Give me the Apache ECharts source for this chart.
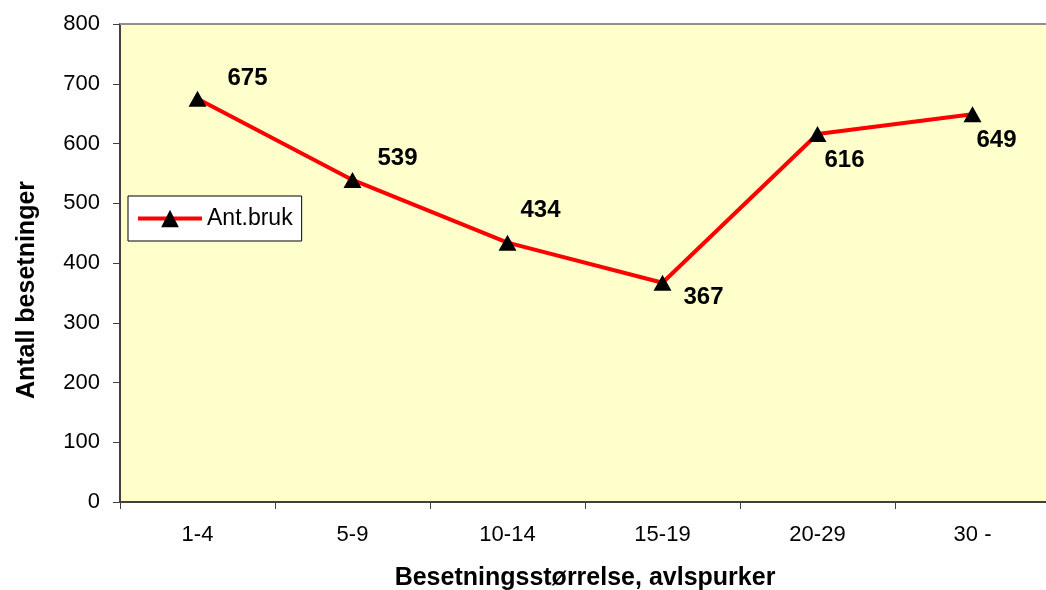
<!DOCTYPE html>
<html><head><meta charset="utf-8">
<script src="https://cdn.jsdelivr.net/npm/echarts@6/dist/echarts.min.js"></script>
<style>html,body{margin:0;padding:0;background:#fff}#c{width:1046px;height:590px}</style>
</head><body><div id="c"></div>
<script>
const categories = ['1-4','5-9','10-14','15-19','20-29','30 -'];
const values = [675, 539, 434, 367, 616, 649];
const yTicks = [0,100,200,300,400,500,600,700,800];
const labelOffsets = [[50,-20],[45,-22],[33,-32],[41,15],[27,26],[24,26]];

const chart = echarts.init(document.getElementById('c'), null, {renderer:'canvas'});
const font = 'Liberation Sans, Arial, sans-serif';
chart.setOption({
  animation:false,
  backgroundColor:'#fff',
  grid:{left:120, top:24, width:930, bottom:88, show:true, backgroundColor:'#ffffcc', borderWidth:0,
        containLabel:false, outerBoundsMode:'none'},
  legend:{
    left:128, top:196, orient:'vertical', backgroundColor:'#fff', borderColor:'#000', borderWidth:1,
    padding:[11,9,11,8], itemWidth:64, itemHeight:22, itemGap:0,
    lineStyle:{width:4},
    textStyle:{fontFamily:font, fontSize:23, color:'#000'},
    data:['Ant.bruk']
  },
  xAxis:{
    type:'category', data:categories, boundaryGap:true,
    name:'Besetningsstørrelse, avlspurker', nameLocation:'middle', nameGap:64,
    nameTextStyle:{fontFamily:font, fontSize:25, fontWeight:'bold', color:'#000'},
    axisLine:{lineStyle:{color:'#404040', width:2}},
    axisTick:{show:true, length:7, alignWithLabel:false, lineStyle:{color:'#404040', width:1}},
    axisLabel:{fontFamily:font, fontSize:22, color:'#000', margin:22}
  },
  yAxis:{
    type:'value', min:0, max:800, interval:100,
    name:'Antall besetninger', nameLocation:'middle', nameGap:80, nameRotate:90,
    nameTextStyle:{fontFamily:font, fontSize:25, fontWeight:'bold', color:'#000', padding:[0,54,0,0]},
    axisLine:{show:true, lineStyle:{color:'#404040', width:2}},
    axisTick:{show:true, length:7, lineStyle:{color:'#404040', width:1}},
    splitLine:{show:false},
    axisLabel:{fontFamily:font, fontSize:22, color:'#000', margin:20,
      formatter:v=> yTicks.includes(v)? String(v):''}
  },
  graphic:[{type:'line', shape:{x1:120,y1:24,x2:1046,y2:24}, style:{stroke:'#909090', lineWidth:2}, z:10}],
  series:[{
    name:'Ant.bruk', type:'line',
    data: values.map((v,i)=>({value:v, label:{offset:labelOffsets[i]}})),
    symbol:'triangle', symbolSize:[18,16],
    lineStyle:{color:'#ff0000', width:4},
    itemStyle:{color:'#000'},
    label:{show:true, position:'inside', fontFamily:font, fontSize:24, fontWeight:'bold', color:'#000'}
  }]
});
</script></body></html>
